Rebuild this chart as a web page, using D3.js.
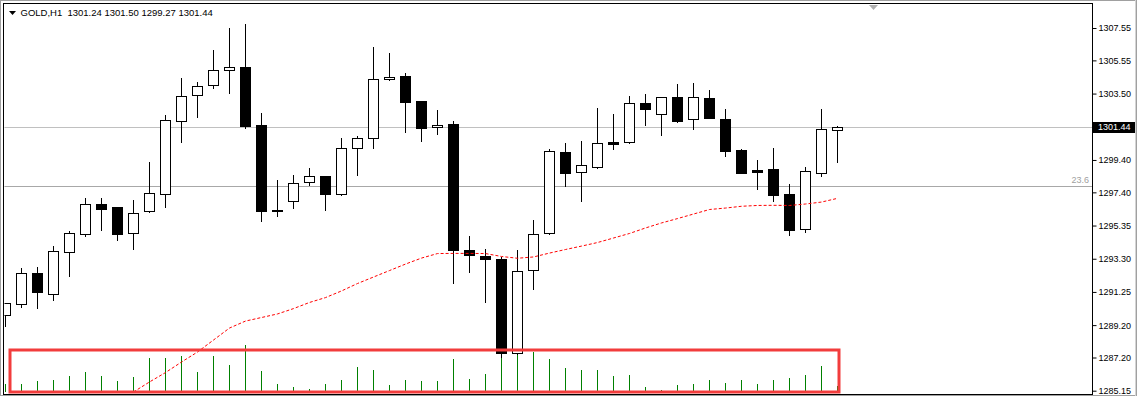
<!DOCTYPE html>
<html><head><meta charset="utf-8">
<script src="https://cdn.jsdelivr.net/npm/d3@7/dist/d3.min.js"></script>
<style>html,body{margin:0;padding:0;background:#fff;overflow:hidden}</style>
</head><body><svg id="c" width="1138" height="396"></svg>
<script>
// ---- data (GOLD, H1) ----
const symbol = "GOLD,H1";
const barIndex = d3.range(53);
const opens  = [1289.80,1290.48,1292.40,1291.10,1293.70,1294.81,1296.66,1296.47,1294.87,1296.23,
                1297.28,1301.79,1303.39,1304.01,1304.94,1305.12,1301.56,1296.31,1296.85,1298.02,
                1298.39,1297.32,1300.12,1300.74,1304.38,1304.57,1303.04,1301.42,1301.60,1293.82,
                1293.45,1293.28,1287.46,1292.58,1294.87,1299.87,1298.64,1298.98,1300.49,1300.53,
                1302.90,1302.26,1303.27,1301.91,1303.21,1301.91,1300.01,1298.76,1298.82,1297.28,
                1295.12,1298.58,1301.24];
const highs  = [1290.55,1292.71,1292.77,1294.08,1295.01,1297.05,1297.05,1296.50,1296.93,1299.27,
                1302.18,1304.46,1304.21,1306.19,1307.55,1307.80,1302.30,1298.16,1298.45,1298.90,
                1298.42,1300.76,1300.88,1306.38,1306.01,1304.75,1303.06,1302.47,1301.79,1294.70,
                1293.88,1293.39,1293.82,1295.67,1300.06,1300.45,1300.57,1302.61,1302.24,1303.35,
                1303.47,1303.30,1304.09,1304.15,1303.72,1302.55,1300.08,1299.40,1300.14,1297.91,
                1298.95,1302.55,1301.50];
const lows   = [1289.16,1290.34,1290.27,1290.77,1292.25,1294.72,1295.09,1294.47,1293.92,1296.20,
                1296.51,1300.53,1302.07,1303.86,1303.55,1301.39,1295.65,1295.96,1296.45,1297.87,
                1296.33,1297.25,1298.49,1300.16,1304.35,1301.15,1300.59,1301.02,1291.82,1292.50,
                1290.64,1287.21,1287.40,1291.43,1294.84,1297.79,1296.88,1298.92,1300.09,1300.47,
                1301.58,1300.96,1301.74,1301.33,1302.01,1299.66,1298.61,1297.62,1296.88,1294.78,
                1294.97,1298.43,1299.27];
const closes = [1290.55,1292.40,1291.23,1293.76,1294.87,1296.66,1296.39,1294.84,1296.10,1297.34,
                1301.85,1303.33,1303.95,1304.94,1305.12,1301.52,1296.27,1296.29,1297.96,1298.39,
                1297.32,1300.12,1300.74,1304.38,1304.50,1303.00,1301.39,1301.54,1293.86,1293.51,
                1293.30,1287.46,1292.52,1294.81,1299.93,1298.61,1299.07,1300.43,1300.40,1302.90,
                1302.57,1303.27,1301.81,1303.27,1302.01,1299.97,1298.61,1298.67,1297.25,1295.09,
                1298.70,1301.29,1301.44];
const volumes = [830,830,1100,1200,1600,2000,1600,1100,1500,3400,3400,3600,2000,3600,2700,4700,2100,800,500,300,
                 800,1200,2500,2200,700,1200,1100,1100,3300,1300,1800,3950,3950,4000,3300,2400,2200,2200,1600,1700,
                 500,200,700,800,1200,900,1200,800,1200,1400,1700,2600,600];
const maValues = [null,null,null,null,null,null,null,null,1285.07,1285.69,
                  1286.27,1286.92,1287.54,1288.28,1289.02,1289.45,1289.67,1289.89,1290.22,1290.60,
                  1290.90,1291.31,1291.77,1292.17,1292.57,1292.97,1293.34,1293.62,1293.63,1293.63,
                  1293.62,1293.44,1293.33,1293.41,1293.65,1293.87,1294.08,1294.30,1294.58,1294.86,
                  1295.20,1295.51,1295.78,1296.06,1296.34,1296.43,1296.54,1296.59,1296.60,1296.59,
                  1296.68,1296.80,1297.03];
const priceTicks = [1307.55,1305.55,1303.50,1299.40,1297.40,1295.35,1293.30,1291.25,1289.20,1287.20,1285.15];
const bidPrice = 1301.44;
const fibPrice = 1297.77;
const fibLabel = "23.6";
const boxFromBar = 0, boxToBar = 52, boxTopVolume = 4200;

// ---- layout ----
const W = 1138, H = 396;
const plot = {l: 4, t: 4, r: 1092, b: 394};
const svg = d3.select("#c");
const font = "'Liberation Sans', Arial, sans-serif";

const x = d3.scaleLinear().domain([0, 52]).range([5, 837]);
const y = d3.scaleLinear().domain([1285.15, 1307.55]).range([390.7, 28]);
const yV = d3.scaleLinear().domain([0, 5000]).range([392, 342]);
const px = v => Math.round(v) + 0.5;

svg.append("rect").attr("width", W).attr("height", H).attr("fill", "#fff");

svg.append("defs").append("clipPath").attr("id", "clip")
  .append("rect").attr("x", plot.l + 0.5).attr("y", plot.t + 0.5)
  .attr("width", plot.r - plot.l - 0.5).attr("height", plot.b - plot.t - 0.5);

const g = svg.append("g").attr("clip-path", "url(#clip)");

// horizontal levels
g.append("line").attr("x1", plot.l).attr("x2", plot.r)
  .attr("y1", px(y(bidPrice))).attr("y2", px(y(bidPrice)))
  .attr("stroke", "#c0c0c0").attr("stroke-width", 1);
g.append("line").attr("x1", plot.l).attr("x2", plot.r)
  .attr("y1", px(y(fibPrice))).attr("y2", px(y(fibPrice)))
  .attr("stroke", "#a8a8a8").attr("stroke-width", 1);
g.append("text").attr("x", plot.r - 3).attr("y", Math.round(y(fibPrice)) - 3)
  .attr("text-anchor", "end").attr("font-family", font).attr("font-size", "9px")
  .attr("fill", "#a0a0a0").text(fibLabel);

// volumes
g.selectAll("line.vol").data(barIndex).join("line").attr("class", "vol")
  .attr("x1", i => x(i) + 0.5).attr("x2", i => x(i) + 0.5)
  .attr("y1", yV(0)).attr("y2", i => Math.round(yV(volumes[i])))
  .attr("stroke", "#008000").attr("stroke-width", 1);

// wicks
g.selectAll("line.wick").data(barIndex).join("line").attr("class", "wick")
  .attr("x1", i => x(i) + 0.5).attr("x2", i => x(i) + 0.5)
  .attr("y1", i => Math.round(y(highs[i]))).attr("y2", i => Math.round(y(lows[i])) + 1)
  .attr("stroke", "#000").attr("stroke-width", 1);

// bodies
g.selectAll("rect.body").data(barIndex).join("rect").attr("class", "body")
  .attr("x", i => x(i) - 5 + 0.5).attr("width", 10)
  .attr("y", i => Math.round(y(Math.max(opens[i], closes[i]))) + 0.5)
  .attr("height", i => Math.max(1, Math.round(y(Math.min(opens[i], closes[i]))) - Math.round(y(Math.max(opens[i], closes[i])))))
  .attr("fill", i => closes[i] >= opens[i] ? "#fff" : "#000")
  .attr("stroke", "#000").attr("stroke-width", 1);

// moving average
const maLine = d3.line().defined(i => maValues[i] != null)
  .x(i => x(i) + 0.5).y(i => y(maValues[i]));
g.append("path").attr("d", maLine(barIndex)).attr("fill", "none")
  .attr("stroke", "#ff0000").attr("stroke-width", 1).attr("stroke-dasharray", "3,2");

// annotation box around volumes
svg.append("rect")
  .attr("x", x(boxFromBar) + 5).attr("y", yV(boxTopVolume))
  .attr("width", x(boxToBar) + 2 - (x(boxFromBar) + 5))
  .attr("height", yV(0) - yV(boxTopVolume))
  .attr("fill", "none").attr("stroke", "#f23c3c").attr("stroke-width", 3);

// frames
svg.append("rect").attr("x", 0.5).attr("y", 0.5).attr("width", W - 2).attr("height", H - 1)
  .attr("fill", "none").attr("stroke", "#a0a0a0").attr("stroke-width", 1);
svg.append("line").attr("x1", W - 2.5).attr("x2", W - 2.5).attr("y1", 0).attr("y2", H)
  .attr("stroke", "#d4d4d4");
svg.append("rect").attr("x", plot.l - 0.5).attr("y", plot.t - 0.5)
  .attr("width", plot.r - plot.l + 1).attr("height", plot.b - plot.t + 1)
  .attr("fill", "none").attr("stroke", "#000").attr("stroke-width", 1);

// shift marker
svg.append("path").attr("d", "M869,5 L878,5 L873.5,10 Z").attr("fill", "#b0b0b0");

// price axis
const axis = d3.axisRight(y).tickValues(priceTicks.concat([bidPrice]))
  .tickFormat(d => d.toFixed(2)).tickSize(4).tickPadding(2);
const ag = svg.append("g").attr("transform", `translate(${plot.r + 0.5},0)`).call(axis);
ag.select(".domain").remove();
ag.selectAll("line").attr("stroke", "#000");
ag.selectAll("text").attr("font-family", font).attr("font-size", "9px").attr("fill", "#000");

// bid label
const by = Math.round(y(bidPrice));
svg.append("rect").attr("x", plot.r + 1).attr("y", by - 5).attr("width", 42).attr("height", 11).attr("fill", "#000");
svg.append("text").attr("x", plot.r + 6).attr("y", by).attr("dy", "0.32em")
  .attr("font-family", font).attr("font-size", "9px").attr("fill", "#fff")
  .text(bidPrice.toFixed(2));

// title
const last = closes.length - 1;
svg.append("path").attr("d", "M9,11 L16,11 L12.5,15 Z").attr("fill", "#000");
svg.append("text").attr("x", 20.5).attr("y", 16).style("white-space", "pre")
  .attr("font-family", font).attr("font-size", "9.5px").attr("fill", "#000")
  .text(`${symbol}  ${opens[last].toFixed(2)} ${highs[last].toFixed(2)} ${lows[last].toFixed(2)} ${closes[last].toFixed(2)}`);
</script></body></html>
